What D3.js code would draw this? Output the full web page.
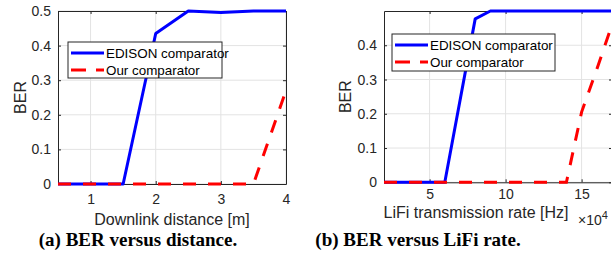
<!DOCTYPE html>
<html>
<head>
<meta charset="utf-8">
<script src="https://cdn.jsdelivr.net/npm/d3@7"></script>
<style>
  body { margin: 0; background: #fff; }
  svg { display: block; }
</style>
</head>
<body>
<div id="chart"></div>
<script>
// (a) BER versus downlink distance
const distance = [0.5, 1, 1.5, 2, 2.5, 3, 3.5, 4];
const edisonDist = [0, 0, 0, 0.435, 0.5, 0.496, 0.5, 0.5];
const oursDist = [0, 0, 0, 0, 0, 0, 0, 0.27];
const distTicks = [1, 2, 3, 4];

// (b) BER versus LiFi rate (x10^4 Hz)
const rate = [2, 4, 6, 8, 9, 10, 12, 14, 15, 16, 17];
const edisonRate = [0, 0, 0, 0.477, 0.5, 0.5, 0.5, 0.5, 0.5, 0.5, 0.5];
const oursRate = [0, 0, 0, 0, 0, 0, 0, 0, 0.205, 0.33, 0.46];
const rateTicks = [5, 10, 15];

const berTicksA = [0, 0.1, 0.2, 0.3, 0.4, 0.5];
const berTicksB = [0, 0.1, 0.2, 0.3, 0.4];
const seriesNames = ["EDISON comparator", "Our comparator"];
const captions = ["(a) BER versus distance.", "(b) BER versus LiFi rate."];

const W = 611, H = 273;
const axisColor = "#262626", gridColor = "#e3e3e3";
const font = "'Liberation Sans', Arial, sans-serif";

const svg = d3.select("#chart").append("svg")
  .attr("width", W).attr("height", H);

function drawPanel(p) {
  const x = d3.scaleLinear().domain(p.xDomain).range([p.left, p.right]);
  const y = d3.scaleLinear().domain([0, 0.5]).range([p.bottom, p.top]);
  const g = svg.append("g");

  // grid
  g.selectAll(".gx").data(p.xTicks).join("line")
    .attr("x1", d => x(d)).attr("x2", d => x(d))
    .attr("y1", p.top).attr("y2", p.bottom)
    .attr("stroke", gridColor).attr("stroke-width", 1);
  g.selectAll(".gy").data(p.yTicks).join("line")
    .attr("x1", p.left).attr("x2", p.right)
    .attr("y1", d => y(d)).attr("y2", d => y(d))
    .attr("stroke", gridColor).attr("stroke-width", 1);

  // axes (box with inward ticks)
  const bottom = g.append("g").attr("transform", "translate(0," + p.bottom + ")")
    .call(d3.axisBottom(x).tickValues(p.xTicks).tickSizeInner(-3).tickSizeOuter(0)
      .tickPadding(p.xPad).tickFormat(d3.format("d")));
  const top = g.append("g").attr("transform", "translate(0," + p.top + ")")
    .call(d3.axisTop(x).tickValues(p.xTicks).tickSizeInner(-3).tickSizeOuter(0).tickFormat(""));
  const left = g.append("g").attr("transform", "translate(" + p.left + ",0)")
    .call(d3.axisLeft(y).tickValues(p.yTicks).tickSizeInner(-3).tickSizeOuter(0).tickPadding(7)
      .tickFormat(d => d === 0 ? "0" : d3.format(".1f")(d)));
  const right = g.append("g").attr("transform", "translate(" + p.right + ",0)")
    .call(d3.axisRight(y).tickValues(p.yTicks).tickSizeInner(-3).tickSizeOuter(0).tickFormat(""));
  [bottom, top, left, right].forEach(a => {
    a.select(".domain").attr("stroke", axisColor).attr("stroke-width", 1);
    a.selectAll(".tick line").attr("stroke", axisColor);
    a.selectAll("text").attr("fill", axisColor).style("font-family", font).style("font-size", "14px");
  });

  // lines
  const line = d3.line().x(d => x(d[0])).y(d => y(d[1]));
  g.append("path").datum(p.xs.map((v, i) => [v, p.blue[i]]))
    .attr("d", line).attr("fill", "none")
    .attr("stroke", "#0000ff").attr("stroke-width", 3).attr("stroke-linejoin", "round");
  g.append("path").datum(p.xs.map((v, i) => [v, p.red[i]]))
    .attr("d", line).attr("fill", "none")
    .attr("stroke", "#ff0000").attr("stroke-width", 3).attr("stroke-dasharray", "13,12");

  // labels
  g.append("text").attr("x", p.xLabelX).attr("y", p.xLabelY)
    .attr("text-anchor", "middle").attr("fill", axisColor)
    .style("font-family", font).style("font-size", "16px").text(p.xLabel);
  g.append("text").attr("transform", "translate(" + p.yLabelX + "," + ((p.top + p.bottom) / 2) + ") rotate(-90)")
    .attr("text-anchor", "middle").attr("fill", axisColor)
    .style("font-family", font).style("font-size", "16px").text("BER");

  // legend
  const L = p.legend;
  g.append("rect").attr("x", L.x).attr("y", L.y).attr("width", L.w).attr("height", L.h)
    .attr("fill", "#fff").attr("stroke", axisColor).attr("stroke-width", 1);
  const rows = [{ c: "#0000ff", dash: null }, { c: "#ff0000", dash: "15,10" }];
  rows.forEach((r, i) => {
    const cy = L.y + 11 + i * 17;
    g.append("line").attr("x1", L.x + 3).attr("x2", L.x + 36).attr("y1", cy).attr("y2", cy)
      .attr("stroke", r.c).attr("stroke-width", 3).attr("stroke-dasharray", r.dash);
    g.append("text").attr("x", L.x + 38).attr("y", cy + 5)
      .attr("fill", "#000").style("font-family", font).style("font-size", "13.4px")
      .text(seriesNames[i]);
  });

  // caption
  g.append("text").attr("x", p.capX).attr("y", 246)
    .attr("text-anchor", "middle").attr("fill", "#000")
    .style("font-family", "'Liberation Serif', 'Times New Roman', serif")
    .style("font-weight", "bold").style("font-size", "19px").text(p.caption);
  return g;
}

drawPanel({
  xDomain: [0.5, 4], left: 58, right: 286, top: 11, bottom: 184,
  xTicks: distTicks, yTicks: berTicksA, xPad: 10,
  xs: distance, blue: edisonDist, red: oursDist,
  xLabel: "Downlink distance [m]", xLabelX: 172, xLabelY: 225,
  yLabelX: 26,
  legend: { x: 68, y: 42, w: 154, h: 36 },
  capX: 138, caption: captions[0]
});

const gb = drawPanel({
  xDomain: [2, 17], left: 384, right: 612, top: 11, bottom: 182.3,
  xTicks: rateTicks, yTicks: berTicksB, xPad: 7,
  xs: rate, blue: edisonRate, red: oursRate,
  xLabel: "LiFi transmission rate [Hz]", xLabelX: 476, xLabelY: 217.5,
  yLabelX: 351,
  legend: { x: 392, y: 34, w: 163, h: 37 },
  capX: 418, caption: captions[1]
});

// exponent label for panel (b)
const ex = gb.append("text").attr("x", 578).attr("y", 225)
  .attr("fill", axisColor).style("font-family", font).style("font-size", "14px");
ex.append("tspan").text("\u00d710");
ex.append("tspan").attr("dy", -6).style("font-size", "11px").text("4");
</script>
</body>
</html>
